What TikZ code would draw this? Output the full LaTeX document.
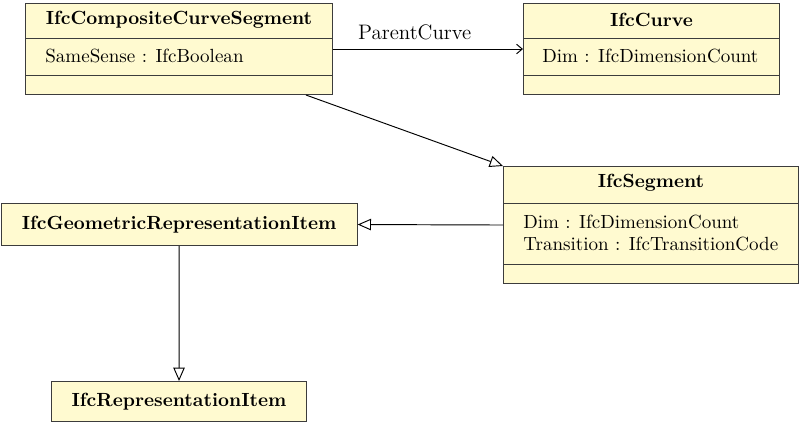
\documentclass[tikz,border=0pt]{standalone}
\usetikzlibrary{arrows.meta,calc}
\definecolor{boxfill}{RGB}{255,250,208}
\definecolor{boxline}{RGB}{60,60,60}
\begin{document}
\begin{tikzpicture}[x=0.525pt,y=-0.525pt,
  box/.style={draw=boxline, fill=boxfill, line width=0.55pt, inner sep=0pt, anchor=north west},
  divider/.style={draw=boxline, line width=0.45pt},
  title/.style={font=\bfseries, inner sep=0pt},
  attr/.style={anchor=west, inner sep=0pt, align=left},
  gen/.style={-{Triangle[open,length=7pt,width=6pt]}, line width=0.5pt},
  assoc/.style={-{Straight Barb[length=3pt,width=5pt]}, line width=0.5pt}]
\useasboundingbox (0,0) rectangle (799,423);

% IfcCompositeCurveSegment
\node[box, minimum width=307*0.525pt, minimum height=91*0.525pt] (ccs) at (25,3) {};
\draw[divider] ($(ccs.north west)+(0,35)$) -- ($(ccs.north east)+(0,35)$);
\draw[divider] ($(ccs.north west)+(0,72)$) -- ($(ccs.north east)+(0,72)$);
\node[title] (ccsT) at ($(ccs.north)+(0,17)$) {IfcCompositeCurveSegment};
\node[attr] (ccsA) at ($(ccs.north west)+(20,53)$) {SameSense : IfcBoolean};

% IfcCurve
\node[box, minimum width=256*0.525pt, minimum height=91*0.525pt] (curve) at (523,3) {};
\draw[divider] ($(curve.north west)+(0,35)$) -- ($(curve.north east)+(0,35)$);
\draw[divider] ($(curve.north west)+(0,72)$) -- ($(curve.north east)+(0,72)$);
\node[title] (curveT) at ($(curve.north)+(0,17)$) {IfcCurve};
\node[attr] (curveA) at ($(curve.north west)+(19,53)$) {Dim : IfcDimensionCount};

% IfcSegment
\node[box, minimum width=295*0.525pt, minimum height=117*0.525pt] (seg) at (503,166) {};
\draw[divider] ($(seg.north west)+(0,37)$) -- ($(seg.north east)+(0,37)$);
\draw[divider] ($(seg.north west)+(0,98)$) -- ($(seg.north east)+(0,98)$);
\node[title] (segT) at ($(seg.north)+(0,17)$) {IfcSegment};
\node[attr] (segA1) at ($(seg.north west)+(20,56)$) {Dim : IfcDimensionCount};
\node[attr] (segA2) at ($(seg.north west)+(20,78)$) {Transition : IfcTransitionCode};

% IfcGeometricRepresentationItem
\node[box, minimum width=356*0.525pt, minimum height=42*0.525pt] (geo) at (0.6,203) {};
\node[title] (geoT) at (geo.center) {IfcGeometricRepresentationItem};

% IfcRepresentationItem
\node[box, minimum width=255*0.525pt, minimum height=40*0.525pt] (rep) at (51,381) {};
\node[title] (repT) at (rep.center) {IfcRepresentationItem};

% connectors
\draw[assoc] (ccs.east) -- node[pos=0.43, above=4.5pt, inner sep=0pt, font=\fontsize{11}{13}\selectfont] {ParentCurve} (curve.west);
\draw[gen] ([xshift=-27*0.525pt]ccs.south east) -- (seg.north west);
\draw[gen] (seg.west) -- (geo.east);
\draw[gen] (geo.south) -- (rep.north);
\end{tikzpicture}
\end{document}
